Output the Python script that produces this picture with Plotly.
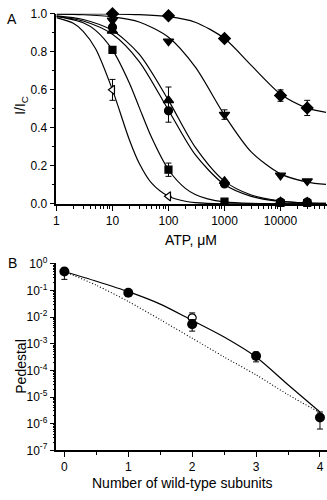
import plotly.graph_objects as go

# ---------------- Panel A data ----------------
atp_pts = [10, 100, 1000, 10000, 30000]

dia_y = [1.0, 0.99, 0.87, 0.57, 0.505]
dia_e = [0.0, 0.0, 0.012, 0.03, 0.04]
tdn_y = [0.965, 0.855, 0.47, 0.15, 0.12]
tdn_e = [0.0, 0.0, 0.025, 0.0, 0.0]
tup_y = [0.91, 0.545, 0.12, 0.012, 0.01]
tup_e = [0.0, 0.07, 0.0, 0.0, 0.0]
cir_y = [0.93, 0.49, 0.105, 0.01, 0.01]
cir_e = [0.0, 0.06, 0.0, 0.0, 0.0]
sq_y = [0.81, 0.18, 0.012, 0.005, 0.005]
sq_e = [0.0, 0.035, 0.0, 0.0, 0.0]
tl_x = [10, 100]
tl_y = [0.6, 0.04]
tl_e = [0.055, 0.0]

# fit curves
fit_x = [1, 3, 10, 30, 100, 300, 1000, 3000, 10000, 30000, 65000]
dia_fit = [1.0, 1.0, 0.999, 0.996, 0.985, 0.956, 0.87, 0.729, 0.578, 0.504, 0.482]
tdn_fit = [0.998, 0.995, 0.984, 0.957, 0.877, 0.721, 0.467, 0.274, 0.158, 0.115, 0.103]
tup_fit = [0.989, 0.970, 0.912, 0.788, 0.545, 0.299, 0.12, 0.047, 0.0155, 0.0056, 0.003]
cir_fit = [0.986, 0.962, 0.892, 0.749, 0.493, 0.259, 0.102, 0.040, 0.0132, 0.0048, 0.0025]
sq_fit_x = [1, 3, 5, 10, 20, 30, 50, 100, 200, 300, 500, 1000, 3000, 10000, 65000]
sq_fit = [0.988, 0.953, 0.913, 0.81, 0.636, 0.508, 0.349, 0.18, 0.082, 0.05, 0.027, 0.011, 0.0027, 0.0006, 0.0]
tl_fit_x = [1, 2, 3, 5, 10, 20, 30, 50, 100, 200, 300, 1000, 10000, 65000]
tl_fit = [0.98, 0.95, 0.908, 0.816, 0.6, 0.338, 0.214, 0.109, 0.04, 0.014, 0.0074, 0.0011, 0.0, 0.0]

atp_ticks = [1, 10, 100, 1000, 10000]
atp_ticktext = ["1", "10", "100", "1000", "10000"]
ic_ticks = [0.0, 0.2, 0.4, 0.6, 0.8, 1.0]
ic_ticktext = ["0.0", "0.2", "0.4", "0.6", "0.8", "1.0"]

# ---------------- Panel B data ----------------
wt_n = [0, 1, 2, 3, 4]
ped_y = [0.52, 0.083, 0.0054, 3.5e-4, 1.7e-6]
ped_up = [0.17, 0.01, 0.0027, 1.4e-4, 1.05e-6]
ped_dn = [0.257, 0.01, 0.0024, 1.4e-4, 1.07e-6]
open_n = [2]
open_y = [0.0095]
open_up = [0.005]
fit_n = [0, 0.5, 1, 1.5, 2, 2.5, 3, 3.5, 4]
solid_fit = [0.52, 0.224, 0.091, 0.031, 0.0076, 0.0018, 3.2e-4, 2.9e-5, 2.75e-6]
dotted_fit = [0.52, 0.158, 0.039, 0.0081, 0.00162, 3.2e-4, 6.8e-5, 1.23e-5, 2.6e-6]
ped_ticks = [1, 1e-1, 1e-2, 1e-3, 1e-4, 1e-5, 1e-6, 1e-7]
ped_ticktext = ["10<sup>0</sup>", "10<sup>-1</sup>", "10<sup>-2</sup>", "10<sup>-3</sup>",
                "10<sup>-4</sup>", "10<sup>-5</sup>", "10<sup>-6</sup>", "10<sup>-7</sup>"]

FONT = "Arial, Liberation Sans, sans-serif"
fig = go.Figure()

LW = 1.2
def curve(x, y):
    fig.add_trace(go.Scatter(x=x, y=y, mode="lines", line=dict(color="black", width=LW, shape="spline", smoothing=0.8),
                             xaxis="x", yaxis="y", showlegend=False, cliponaxis=False))

for cx, cy in [(fit_x, dia_fit), (fit_x, tdn_fit), (fit_x, tup_fit), (fit_x, cir_fit),
               (sq_fit_x, sq_fit), (tl_fit_x, tl_fit)]:
    curve(cx, cy)

def pts(x, y, e, sym, size=8, fill="black"):
    fig.add_trace(go.Scatter(x=x, y=y, mode="markers",
                             marker=dict(symbol=sym, size=size, color=fill, line=dict(color="black", width=1.2)),
                             error_y=dict(type="data", array=e, visible=True, color="black", thickness=1, width=3),
                             xaxis="x", yaxis="y", showlegend=False, cliponaxis=False))

pts(atp_pts, dia_y, dia_e, "diamond", 9)
pts(atp_pts, tdn_y, tdn_e, "triangle-down", 9)
pts(atp_pts, tup_y, tup_e, "triangle-up", 9)
pts(atp_pts, cir_y, cir_e, "circle", 8)
pts(atp_pts, sq_y, sq_e, "square", 7)
pts(tl_x, tl_y, tl_e, "triangle-left", 8, "white")

# Panel B
fig.add_trace(go.Scatter(x=fit_n, y=solid_fit, mode="lines", line=dict(color="black", width=LW, shape="spline", smoothing=0.8),
                         xaxis="x2", yaxis="y2", showlegend=False))
fig.add_trace(go.Scatter(x=fit_n, y=dotted_fit, mode="lines", line=dict(color="black", width=1.1, dash="1px,2px", shape="spline", smoothing=0.8),
                         xaxis="x2", yaxis="y2", showlegend=False))
fig.add_trace(go.Scatter(x=open_n, y=open_y, mode="markers",
                         marker=dict(symbol="circle", size=8, color="white", line=dict(color="black", width=1.2)),
                         error_y=dict(type="data", symmetric=False, array=open_up, arrayminus=[0], color="black", thickness=1, width=3),
                         xaxis="x2", yaxis="y2", showlegend=False, cliponaxis=False))
fig.add_trace(go.Scatter(x=wt_n, y=ped_y, mode="markers",
                         marker=dict(symbol="circle", size=10, color="black"),
                         error_y=dict(type="data", symmetric=False, array=ped_up, arrayminus=ped_dn, color="black", thickness=1, width=3),
                         xaxis="x2", yaxis="y2", showlegend=False, cliponaxis=False))

minor_atp = [m * 10 ** k for k in range(0, 5) for m in range(2, 10)]
ax_common = dict(showline=True, linecolor="black", linewidth=1.5, ticks="outside", tickcolor="black",
                 tickwidth=1.2, ticklen=5, showgrid=False, zeroline=False,
                 tickfont=dict(family=FONT, size=12, color="black"))

fig.update_layout(
    width=327, height=500, margin=dict(l=0, r=0, t=0, b=0),
    paper_bgcolor="white", plot_bgcolor="white",
    xaxis=dict(type="log", range=[0, 4.83], domain=[0.165, 1.0], anchor="y",
               tickvals=atp_ticks, ticktext=atp_ticktext,
               minor=dict(tickvals=minor_atp, ticks="outside", ticklen=3, tickcolor="black", showgrid=False),
               **ax_common),
    yaxis=dict(range=[0, 1.0], domain=[0.596, 0.988], anchor="x",
               tickvals=ic_ticks, ticktext=ic_ticktext,
               minor=dict(dtick=0.1, ticks="outside", ticklen=3, tickcolor="black", showgrid=False),
               **ax_common),
    xaxis2=dict(range=[-0.124, 4.11], domain=[0.165, 1.0], anchor="y2",
                tickvals=wt_n, ticktext=[str(v) for v in wt_n],
                minor=dict(dtick=0.5, ticks="outside", ticklen=3, tickcolor="black", showgrid=False),
                **ax_common),
    yaxis2=dict(type="log", range=[-7, 0.02], domain=[0.088, 0.4734], anchor="x2",
                tickvals=ped_ticks, ticktext=ped_ticktext,
                minor=dict(tickvals=[m * 10 ** k for k in range(-7, 0) for m in range(2, 10)],
                           ticks="outside", ticklen=2, tickcolor="black", showgrid=False),
                **ax_common),
)

ann_font = dict(family=FONT, size=14, color="black")
def ann(text, x, y, angle=0, xa="center", ya="middle"):
    fig.add_annotation(text=text, x=x, y=y, xref="paper", yref="paper", xanchor=xa, yanchor=ya,
                       textangle=angle, showarrow=False, font=ann_font)

ann("A", 2 / 327, 1 - 1 / 500, xa="left", ya="top")
ann("B", 3 / 327, 1 - 263 / 500, xa="left")
ann("I/I<sub>C</sub>", 18 / 327, 1 - 100 / 500, angle=-90)
ann("ATP, μM", 190 / 327, 1 - 239 / 500)
ann("Pedestal", 18 / 327, 1 - 370 / 500, angle=-90)
ann("Number of wild-type subunits", 181 / 327, 1 - 490 / 500)

fig.write_html("out.html")
